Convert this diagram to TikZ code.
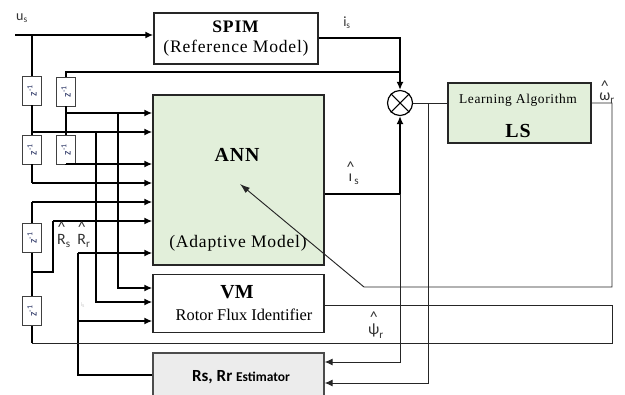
\documentclass[tikz,border=0pt]{standalone}
\usepackage{amsmath}
\usepackage{fontspec}
\setmainfont{Liberation Serif}
\setsansfont{Carlito}
\newfontfamily\spacedserif[LetterSpace=4.5]{Liberation Serif}
\usetikzlibrary{arrows.meta,positioning,calc,shadows}
\definecolor{annGreen}{HTML}{E2EFDA}
\definecolor{estGray}{HTML}{ECECEC}
\definecolor{zNavy}{HTML}{1F2A5C}
\newcommand{\hatsig}[2]{$\overset{\raisebox{-0.9ex}{\text{\^{}}}}{\text{#1}}_{\text{#2}}$}
\tikzset{
  wire/.style={draw=black,line width=1.3pt},
  thin wire/.style={draw=black!85,line width=0.8pt},
  main wire/.style={draw=black,line width=1.8pt},
  in arrow/.style={-{Latex[length=2.4mm,width=2.1mm]}},
  fine arrow/.style={-{Latex[length=3mm,width=2mm]}},
  block node/.style={draw=black!85,line width=1.2pt,inner sep=0pt,align=center,
    drop shadow={opacity=0.18,shadow xshift=0.7pt,shadow yshift=-0.7pt}},
  delay node/.style={draw=black!75,line width=0.8pt,fill=white,inner sep=0pt,
    minimum width=0.57cm,minimum height=0.87cm,text=zNavy,
    font=\sffamily\fontsize{9.5}{10}\selectfont,
    drop shadow={opacity=0.18,shadow xshift=0.5pt,shadow yshift=-0.5pt}},
  sum node/.style={circle,draw=black,line width=1pt,fill=white,minimum size=0.75cm,
    inner sep=0pt,drop shadow={opacity=0.18,shadow xshift=0.5pt,shadow yshift=-0.5pt}},
  sig label/.style={font=\sffamily\fontsize{12}{13}\selectfont,inner sep=0pt,text=black!80},
  hat label/.style={sig label,font=\sffamily\fontsize{13.5}{14}\selectfont}
}

\begin{document}
\begin{tikzpicture}[x=0.03cm,y=-0.03cm]
  \useasboundingbox (0,0) rectangle (625,394);
  % main blocks
  \node[block node,fill=white,minimum width=4.92cm,minimum height=1.53cm,
    font=\spacedserif\fontsize{15}{17}\selectfont] (spim) at (236,38.5)
    {\textbf{SPIM}\\(Reference Model)};
  \node[block node,fill=annGreen,minimum width=5.13cm,minimum height=5.1cm] (ann) at (238.5,180) {};
  \node[font=\spacedserif\fontsize{17}{19}\selectfont\bfseries] (annTitle) at (237,155) {ANN};
  \node[font=\spacedserif\fontsize{15}{17}\selectfont] (annSub) at (238,243) {(Adaptive Model)};
  \node[block node,fill=white,minimum width=5.13cm,minimum height=1.74cm,
    below=0.24cm of ann] (vm) {};
  \node[font=\fontsize{17}{19}\selectfont\bfseries] (vmTitle) at (237,292) {VM};
  \node[font=\fontsize{14}{16}\selectfont] (vmSub) at (244,315) {Rotor Flux Identifier};
  \node[block node,fill=estGray,draw=black!70,minimum width=5.13cm,minimum height=1.45cm,
    below=0.57cm of vm] (est) {};
  \node[font=\sffamily\bfseries] (estText) at (241,377)
    {\fontsize{14.5}{16}\selectfont Rs, Rr \fontsize{11.5}{13}\selectfont Estimator};
  \node[block node,fill=annGreen,minimum width=4.29cm,minimum height=1.8cm] (ls) at (519.5,113) {};
  \node[font=\spacedserif\fontsize{11.5}{13}\selectfont] (lsTitle) at (518,100) {Learning Algorithm};
  \node[font=\spacedserif\fontsize{17}{19}\selectfont\bfseries] (lsSub) at (518,131) {LS};
  \node[sum node] (sum) at (400,103) {};
  \draw[line width=0.9pt] (sum.north east) -- (sum.south west)
    (sum.north west) -- (sum.south east);
  % delays
  \node[delay node] (z1) at (32,90.5) {\rotatebox{90}{z\textsuperscript{-1}}};
  \node[delay node] (z2) at (32,149.5) {\rotatebox{90}{z\textsuperscript{-1}}};
  \node[delay node] (z3) at (32,238) {\rotatebox{90}{z\textsuperscript{-1}}};
  \node[delay node] (z4) at (32,311) {\rotatebox{90}{z\textsuperscript{-1}}};
  \node[delay node] (z5) at (66,91.5) {\rotatebox{90}{z\textsuperscript{-1}}};
  \node[delay node] (z6) at (66,149.5) {\rotatebox{90}{z\textsuperscript{-1}}};
  % junctions
  \coordinate (us) at (15,35);
  \coordinate (usTap) at (32,35);
  \coordinate (isTop) at (400,38);
  \coordinate (isTap) at (400,72);
  \coordinate (t1) at (66,113);
  \coordinate (t2) at (32,132);
  \coordinate (t3) at (66,164);
  \coordinate (t4) at (32,183);
  \coordinate (t5) at (32,202);
  \coordinate (t6) at (53,221);
  \coordinate (t7) at (78,253);
  \coordinate (psiTap) at (32,272);
  \coordinate (v1) at (118,113);
  \coordinate (v2) at (96,132);
  \coordinate (m1) at (118,288);
  \coordinate (m2) at (96,302);
  \coordinate (m3) at (78,321);
  \coordinate (p1) at (612,305);
  \coordinate (p2) at (612,343);
  \coordinate (p3) at (32,343);
  \coordinate (e1) at (78,375);
  \coordinate (o1) at (400,194);
  \coordinate (o2) at (400,362);
  \coordinate (errTap) at (428,103);
  \coordinate (e3) at (428,383);
  \coordinate (w1) at (612,103);
  \coordinate (w2) at (612,287);
  \coordinate (w3) at (364,287);
  \coordinate (wTip) at (240,184);
  % left side
  \draw[wire,in arrow] (us) -- (us -| spim.west);
  \draw[wire] (usTap) -- (z1.north) (z1.south) -- (z2.north) (z2.south) -- (t4);
  \draw[wire] (isTap) -| (z5.north) (z5.south) -- (z6.north) (z6.south) -- (t3);
  \draw[wire] (p3) -- (z4.south) (z4.north) -- (z3.south) (z3.north) -- (t5);
  \draw[wire] (psiTap) -| (t6);
  \draw[wire] (e1 -| est.west) -- (e1) -- (t7);
  \foreach \i in {1,...,7}
    \draw[wire,in arrow] (t\i) -- (t\i -| ann.west);
  \draw[wire,in arrow] (v1) |- (m1 -| vm.west);
  \draw[wire,in arrow] (v2) |- (m2 -| vm.west);
  \draw[wire,in arrow] (m3) -- (m3 -| vm.west);
  % currents and error
  \draw[main wire,in arrow] (isTop -| spim.east) -- (isTop) -- (sum.north);
  \draw[main wire,in arrow] (o1 -| ann.east) -- (o1) -- (sum.south);
  \draw[thin wire,in arrow] (o1) |- (o2 -| est.east);
  \draw[thin wire] (sum.east) -- (sum.east -| ls.west);
  \draw[thin wire,in arrow] (errTap) |- (e3 -| est.east);
  % feedback loops
  \draw[thin wire,fine arrow] (w1 -| ls.east) -- (w1) -- (w2) -- (w3) -- (wTip);
  \draw[thin wire] (p1 -| vm.east) -- (p1) -- (p2) -- (p3);
  % labels
  \node[sig label] (usLabel) at (22,18) {u\textsubscript{s}};
  \node[sig label] (isLabel) at (347,23) {i\textsubscript{s}};
  \node[hat label] (isHat) at (353,172) {\hatsig{ı}{s}};
  \node[hat label] (omegaHat) at (607,91) {\hatsig{ω}{r}};
  \node[hat label] (psiHat) at (376,324) {\hatsig{ψ}{r}};
  \node[hat label] (rsHat) at (64,234) {\hatsig{R}{s}};
  \node[hat label] (rrHat) at (84,234) {\hatsig{R}{r}};
  \node[font=\sffamily\tiny,text=black!20] (faintIs) at (83,305) {i\textsubscript{s}};
\end{tikzpicture}
\end{document}
